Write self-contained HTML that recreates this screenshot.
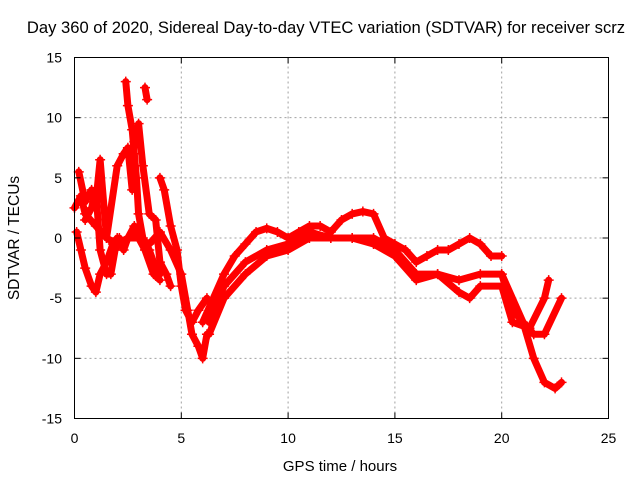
<!DOCTYPE html>
<html><head><meta charset="utf-8"><style>
body{margin:0;background:#fff}
svg text{font-family:"Liberation Sans",sans-serif;font-size:14px;fill:#000}
</style></head><body>
<svg id="chart" width="640" height="480" viewBox="0 0 640 480">
<text x="326" y="33" text-anchor="middle" style="font-size:16.6px">Day 360 of 2020, Sidereal Day-to-day VTEC variation (SDTVAR) for receiver scrz</text>
<g id="grid"></g>
<g id="series"></g>
<rect x="74.5" y="57.5" width="534" height="361" fill="none" stroke="#000" stroke-width="1"/>
<g id="ticks"></g>
<text x="340" y="471" text-anchor="middle" style="font-size:15px">GPS time / hours</text>
<text x="0" y="0" text-anchor="middle" style="font-size:15.5px" transform="translate(19,238) rotate(-90)">SDTVAR / TECUs</text>
</svg>
<script>
const xTicks=[0,5,10,15,20,25];
const yTicks=[-15,-10,-5,0,5,10,15];
const trackA=[[6,-7],[6.5,-5],[7,-3],[7.5,-1.5],[8,-0.5],[8.5,0.5],[9,0.8],[9.5,0.5],[10,0],[10.5,0.5],[11,1],[11.5,1],[12,0.5],[12.5,1.5],[13,2],[13.5,2.2],[14,2],[14.5,0],[15,-0.5],[15.5,-1],[16,-2],[16.5,-1.5],[17,-1],[17.5,-1],[18,-0.5],[18.5,0],[19,-0.5],[19.5,-1.5],[20,-1.5]];
const trackB=[[6.3,-8],[7,-5],[8,-3],[9,-1.5],[10,-1],[11,0],[12,0],[13,0],[14,0],[15,-1],[16,-3],[17,-3],[18,-3.5],[19,-3],[20,-3],[20.5,-6],[21.5,-8],[22,-8],[22.8,-5]];
const trackC=[[6.3,-7],[7,-4],[8,-2],[9,-1],[10,-0.5],[11,0.5],[12,0],[13,0],[14,-0.5],[15,-1.5],[16,-3.5],[17,-3],[18,-4.5],[18.5,-5],[19,-4],[20,-4],[20.5,-7],[21.3,-7.5],[22,-5],[22.2,-3.5]];
const trackD=[[20,-3],[21,-7],[21.5,-10],[22,-12],[22.5,-12.5],[22.8,-12]];
const trackE=[[0,2.5],[0.3,3.5],[0.5,2],[1,1],[1.5,0],[2,-0.5],[2.5,0],[3,0],[3.5,-0.5],[4,0.5],[4.5,-1],[5,-3],[5.3,-6],[5.5,-8],[5.8,-9],[6,-10],[6.2,-8]];
const trackF=[[0.1,0.5],[0.3,-1],[0.5,-2.5],[0.8,-4],[1,-4.5],[1.2,-3],[1.5,-2],[1.8,-0.5],[2,0],[2.3,-1],[2.5,0],[2.8,1],[3,0],[3.3,-1],[3.7,-3],[4,-3.5]];
const trackG=[[0.2,5.5],[0.5,3],[0.8,4],[1,3],[1.2,6.5],[1.5,0],[2,6],[2.3,7],[2.5,7.5],[2.7,4],[2.8,8],[3,9.5],[3.2,6],[3.5,2],[3.8,1.5],[4,-2],[4.3,-3],[4.5,-4]];
const trackH=[[2.4,13],[2.5,11],[2.7,9],[2.8,7],[2.9,5],[3,2],[3.2,0],[3.5,-1],[3.7,-2],[4,-3]];
const trackI=[[3.3,12.5],[3.4,11.5]];
const trackJ=[[4,5],[4.2,4],[4.5,1],[4.8,-1],[5,-4],[5.2,-6],[5.5,-7],[5.8,-6],[6.2,-5]];
const trackK=[[0.5,1.5],[0.8,2.5],[1,4],[1.2,-1],[1.5,-3],[1.7,-3],[1.9,-1],[2.1,0]];
const tracks=[trackA,trackB,trackC,trackD,trackE,trackF,trackG,trackH,trackI,trackJ,trackK];
const NS="http://www.w3.org/2000/svg";
const X0=74.5,X1=608.5,Y0=418.5,Y1=57.5;
const sx=t=>X0+(t-0)/25*(X1-X0);
const sy=v=>Y0-(v+15)/30*(Y0-Y1);
const grid=document.getElementById('grid'),ticks=document.getElementById('ticks'),ser=document.getElementById('series');
function mk(tag,at,parent){const e=document.createElementNS(NS,tag);for(const k in at)e.setAttribute(k,at[k]);parent.appendChild(e);return e;}
xTicks.forEach(t=>{const x=sx(t);
 if(t>0&&t<25){const g=mk('line',{x1:x,x2:x,y1:Y0,y2:Y1,stroke:'#a0a0a0','stroke-dasharray':'2,3'},grid);
 
 }
 const tl=mk('text',{x:x,y:443,'text-anchor':'middle'},ticks);tl.textContent=t;
 
 
 mk('line',{x1:x,x2:x,y1:Y0,y2:Y0-6,stroke:'#000'},ticks);mk('line',{x1:x,x2:x,y1:Y1,y2:Y1+6,stroke:'#000'},ticks);});
yTicks.forEach(v=>{const y=sy(v);
 if(v>-15&&v<15){const g=mk('line',{x1:X0,x2:X1,y1:y,y2:y,stroke:'#a0a0a0','stroke-dasharray':'2,3'},grid);
 
 }
 const tl=mk('text',{x:62,y:y+5,'text-anchor':'end'},ticks);tl.textContent=v;
 
 
 mk('line',{x1:X0,x2:X0+6,y1:y,y2:y,stroke:'#000'},ticks);mk('line',{x1:X1,x2:X1-6,y1:y,y2:y,stroke:'#000'},ticks);});
tracks.forEach((tr,i)=>{
 const p=mk('polyline',{points:tr.map(d=>sx(d[0])+','+sy(d[1])).join(' '),fill:'none',stroke:'#ff0000','stroke-width':7,'stroke-linejoin':'round','stroke-linecap':'round'},ser);
 
 
 tr.forEach(d=>{const x=sx(d[0]),y=sy(d[1]);
  const m=mk('path',{d:`M${x-5},${y}H${x+5}M${x},${y-5}V${y+5}`,stroke:'#ff0000','stroke-width':1.5},ser);
  
  });
});
</script>
</body></html>
